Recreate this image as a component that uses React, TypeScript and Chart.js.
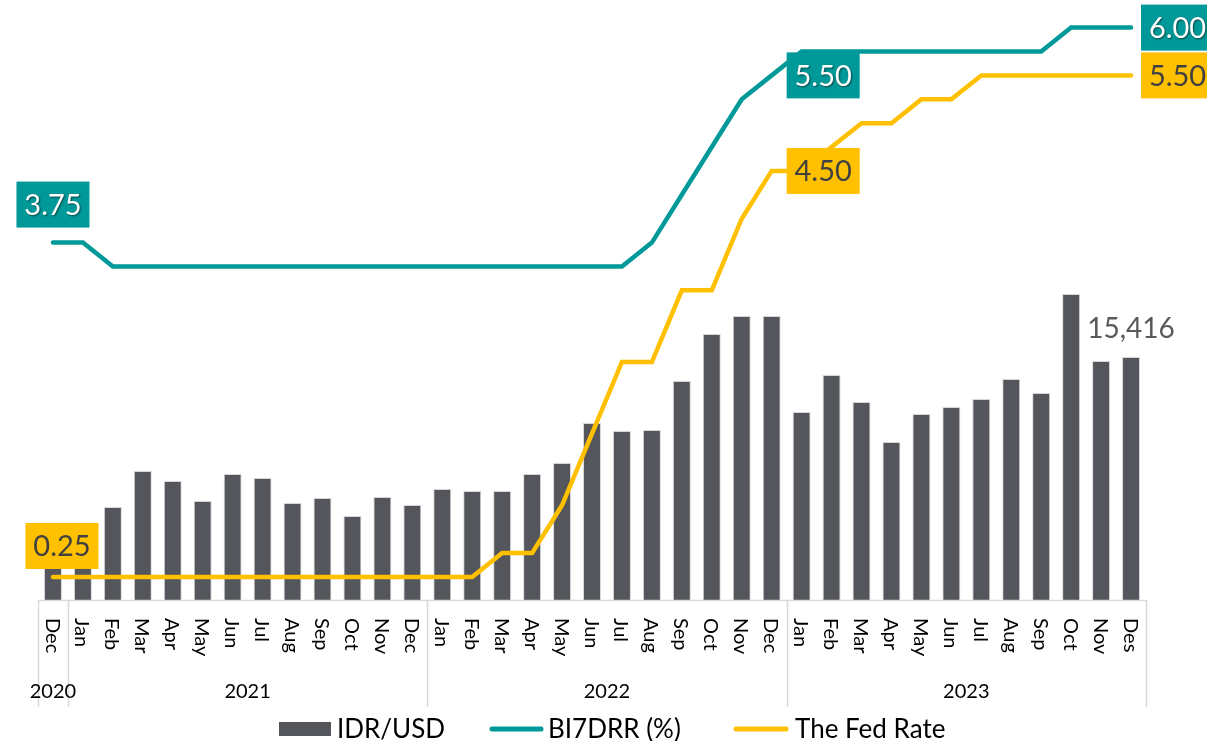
import React, { useEffect, useRef } from "react";
import { Chart, registerables } from "chart.js";

Chart.register(...registerables);

const months = [
  "Dec",
  "Jan", "Feb", "Mar", "Apr", "May", "Jun", "Jul", "Aug", "Sep", "Oct", "Nov", "Dec",
  "Jan", "Feb", "Mar", "Apr", "May", "Jun", "Jul", "Aug", "Sep", "Oct", "Nov", "Dec",
  "Jan", "Feb", "Mar", "Apr", "May", "Jun", "Jul", "Aug", "Sep", "Oct", "Nov", "Des",
];
const yearLabels = ["2020", "2021", "2022", "2023"];
const yearStart = [0, 1, 13, 25];
const yearEnd = [0, 12, 24, 36];

const idrUsd = [
  14105,
  14084, 14306, 14572, 14498, 14350, 14550, 14521, 14336, 14373, 14239, 14380, 14321,
  14439, 14424, 14424, 14550, 14632, 14928, 14868, 14876, 15238, 15586, 15719, 15719,
  15009, 15283, 15083, 14787, 14994, 15046, 15105, 15253, 15150, 15882, 15386, 15416,
];
const bi7drr = [
  3.75,
  3.75, 3.5, 3.5, 3.5, 3.5, 3.5, 3.5, 3.5, 3.5, 3.5, 3.5, 3.5,
  3.5, 3.5, 3.5, 3.5, 3.5, 3.5, 3.5, 3.75, 4.25, 4.75, 5.25, 5.5,
  5.75, 5.75, 5.75, 5.75, 5.75, 5.75, 5.75, 5.75, 5.75, 6.0, 6.0, 6.0,
];
const fedRate = [
  0.25,
  0.25, 0.25, 0.25, 0.25, 0.25, 0.25, 0.25, 0.25, 0.25, 0.25, 0.25, 0.25,
  0.25, 0.25, 0.5, 0.5, 1.0, 1.75, 2.5, 2.5, 3.25, 3.25, 4.0, 4.5,
  4.5, 4.75, 5.0, 5.0, 5.25, 5.25, 5.5, 5.5, 5.5, 5.5, 5.5, 5.5,
];
const seriesNames = ["IDR/USD", "BI7DRR (%)", "The Fed Rate"];

const TEAL = "#009999";
const GOLD = "#FFC000";
const BAR = "#55565B";
const FONT = "Lato, 'Open Sans', sans-serif";

// label placements (styling)
const rateLabels = [
  { ds: 1, i: 0, place: "above", dx: 0, gap: 15 },
  { ds: 1, i: 24, place: "right", dx: 15, gap: 0 },
  { ds: 1, i: 36, place: "right", dx: 10, gap: 0 },
  { ds: 2, i: 0, place: "above", dx: 9, gap: 8 },
  { ds: 2, i: 24, place: "right", dx: 15, gap: 0 },
  { ds: 2, i: 36, place: "right", dx: 10, gap: 0 },
];
const idrLabelIndex = [36];

const overlayPlugin = {
  id: "overlay",
  afterDatasetsDraw(chart: any) {
    const ctx = chart.ctx;
    const area = chart.chartArea;
    const xs = chart.scales.x;
    const n = months.length;
    const px = (i: number) => xs.getPixelForValue(i);
    const boundary = (i: number) => {
      if (i <= 0) return area.left;
      if (i >= n) return area.right;
      return (px(i - 1) + px(i)) / 2;
    };

    ctx.save();
    // axis line
    ctx.strokeStyle = "#D9D9D9";
    ctx.lineWidth = 1.5;
    ctx.beginPath();
    ctx.moveTo(area.left, area.bottom + 0.5);
    ctx.lineTo(area.right, area.bottom + 0.5);
    ctx.stroke();
    // group separators
    const seps = [0, 1, 13, 25, 37];
    seps.forEach((s) => {
      const x = Math.round(boundary(s)) + 0.5;
      ctx.beginPath();
      ctx.moveTo(x, area.bottom);
      ctx.lineTo(x, area.bottom + 107);
      ctx.stroke();
    });

    // month labels rotated clockwise
    ctx.fillStyle = "#000000";
    ctx.font = `20px ${FONT}`;
    ctx.textAlign = "left";
    ctx.textBaseline = "middle";
    months.forEach((m, i) => {
      ctx.save();
      ctx.translate(px(i) - 1, area.bottom + 18);
      ctx.rotate(Math.PI / 2);
      ctx.fillText(m, 0, 0);
      ctx.restore();
    });

    // year labels
    ctx.font = `20px ${FONT}`;
    ctx.textAlign = "center";
    ctx.textBaseline = "middle";
    yearLabels.forEach((y, k) => {
      const a = yearStart[k];
      const b = yearEnd[k];
      const x = a === b ? px(a) : (boundary(a) + boundary(b + 1)) / 2;
      ctx.fillText(y, x, area.bottom + 92);
    });

    // rate labels
    const BW = 73;
    const BH = 46;
    rateLabels.forEach((l) => {
      const meta = chart.getDatasetMeta(l.ds);
      const pt = meta.data[l.i];
      const val = chart.data.datasets[l.ds].data[l.i] as number;
      let bx: number, by: number;
      if (l.place === "above") {
        bx = pt.x + l.dx - BW / 2;
        by = pt.y - l.gap - BH;
      } else {
        bx = pt.x + l.dx;
        by = pt.y - BH / 2;
      }
      const isTeal = l.ds === 1;
      ctx.fillStyle = isTeal ? TEAL : GOLD;
      ctx.fillRect(bx, by, BW, BH);
      ctx.font = `29px ${FONT}`;
      ctx.textAlign = "center";
      ctx.textBaseline = "middle";
      if (isTeal) {
        ctx.save();
        ctx.shadowColor = "rgba(0,0,0,0.55)";
        ctx.shadowOffsetX = 1;
        ctx.shadowOffsetY = 1.5;
        ctx.shadowBlur = 2;
        ctx.fillStyle = "#FFFFFF";
        ctx.fillText(val.toFixed(2), bx + BW / 2, by + BH / 2 + 1);
        ctx.restore();
      } else {
        ctx.fillStyle = "#404040";
        ctx.fillText(val.toFixed(2), bx + BW / 2, by + BH / 2 + 1);
      }
    });

    // IDR label
    const barMeta = chart.getDatasetMeta(0);
    idrLabelIndex.forEach((i) => {
      const bar = barMeta.data[i];
      const v = chart.data.datasets[0].data[i] as number;
      ctx.fillStyle = "#595959";
      ctx.font = `28px ${FONT}`;
      ctx.textAlign = "center";
      ctx.textBaseline = "bottom";
      ctx.fillText(v.toLocaleString("en-US"), bar.x, bar.y - 14);
    });

    // legend
    const ly = 729;
    ctx.font = `26px ${FONT}`;
    ctx.textAlign = "left";
    ctx.textBaseline = "middle";
    ctx.fillStyle = BAR;
    ctx.fillRect(279, ly - 7, 52, 14);
    ctx.fillStyle = "#000000";
    ctx.fillText(seriesNames[0], 337, ly + 1);

    ctx.lineCap = "round";
    ctx.lineWidth = 5;
    ctx.strokeStyle = TEAL;
    ctx.beginPath();
    ctx.moveTo(492, ly);
    ctx.lineTo(541, ly);
    ctx.stroke();
    ctx.fillText(seriesNames[1], 548, ly + 1);

    ctx.strokeStyle = GOLD;
    ctx.beginPath();
    ctx.moveTo(736, ly);
    ctx.lineTo(786, ly);
    ctx.stroke();
    ctx.fillText(seriesNames[2], 795, ly + 1);

    ctx.restore();
  },
};

export default function App() {
  const ref = useRef<HTMLCanvasElement | null>(null);
  useEffect(() => {
    document.body.style.margin = "0";
    if (!ref.current) return;
    const chart = new Chart(ref.current, {
      type: "bar",
      data: {
        labels: months.map((m, i) => `${m}-${i}`),
        datasets: [
          {
            type: "bar",
            label: seriesNames[0],
            data: idrUsd,
            backgroundColor: BAR,
            borderColor: "rgba(210,210,212,0.9)",
            borderWidth: 1,
            barPercentage: 0.6,
            categoryPercentage: 1,
            yAxisID: "y",
            order: 3,
          },
          {
            type: "line",
            label: seriesNames[1],
            data: bi7drr,
            borderColor: TEAL,
            borderWidth: 4.5,
            borderCapStyle: "round",
            borderJoinStyle: "miter",
            pointRadius: 0,
            tension: 0,
            fill: false,
            yAxisID: "y2",
            order: 2,
          },
          {
            type: "line",
            label: seriesNames[2],
            data: fedRate,
            borderColor: GOLD,
            borderWidth: 4.5,
            borderCapStyle: "round",
            borderJoinStyle: "miter",
            pointRadius: 0,
            tension: 0,
            fill: false,
            yAxisID: "y2",
            order: 1,
          },
        ],
      },
      options: {
        responsive: false,
        animation: false,
        devicePixelRatio: 1,
        layout: { padding: { left: 38, right: 61, top: 0, bottom: 141 } },
        plugins: {
          legend: { display: false },
          tooltip: { enabled: false },
        },
        scales: {
          x: { display: false, offset: true },
          y: { display: false, min: 13617.8, max: 18057.8 },
          y2: { display: false, min: 0.009, max: 6.289, position: "right" },
        },
      },
      plugins: [overlayPlugin],
    } as any);
    return () => chart.destroy();
  }, []);
  return (
    <div style={{ width: 1207, height: 741 }}>
      <canvas ref={ref} width={1207} height={741} />
    </div>
  );
}
